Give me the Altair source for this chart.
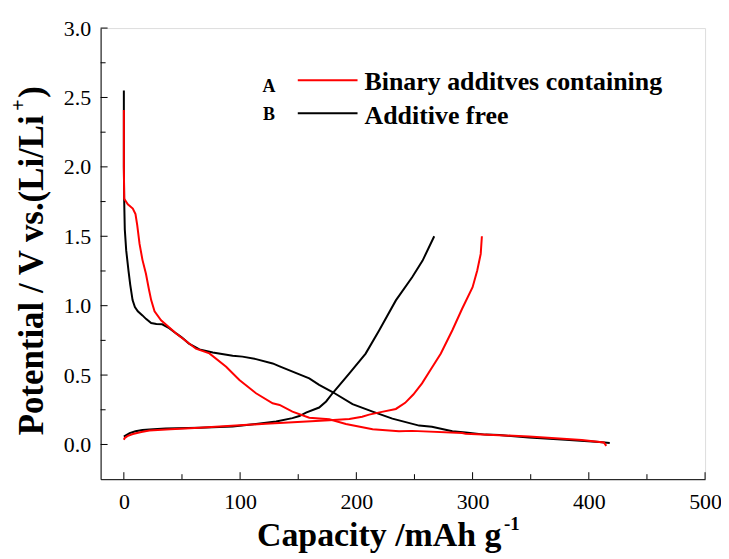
import altair as alt
import pandas as pd

# ---- data ----
# B: Additive free (black)
b_dis_x = [0, 0, 0.3, 0.8, 2, 4, 5.5, 7.5, 9.5, 12, 16, 19, 23.5, 28, 33, 39, 45, 50, 56, 65, 76.5,
           93.6, 102, 113.7, 128, 134, 151, 159.5, 168, 179.5, 196.7, 214, 231, 254, 265, 282.6,
           294, 311, 323, 348.5, 380, 409, 418]
b_dis_y = [2.55, 2.0, 1.75, 1.55, 1.40, 1.25, 1.15, 1.04, 0.99, 0.96, 0.93, 0.905, 0.875, 0.868,
           0.866, 0.838, 0.80, 0.77, 0.727, 0.685, 0.662, 0.640, 0.633, 0.615, 0.584, 0.563, 0.505,
           0.476, 0.43, 0.378, 0.29, 0.237, 0.186, 0.136, 0.127, 0.095, 0.087, 0.071, 0.068, 0.05,
           0.034, 0.017, 0.01]
b_chg_x = [0, 0.6, 5, 10, 16, 22, 36, 65, 93.6, 113.7, 131, 145, 151, 156.7, 168, 174, 179.5, 194,
           208, 219.7, 234, 248, 257, 267]
b_chg_y = [0.057, 0.06, 0.082, 0.095, 0.105, 0.108, 0.115, 0.12, 0.13, 0.148, 0.165, 0.19, 0.205,
           0.23, 0.266, 0.31, 0.369, 0.512, 0.655, 0.823, 1.038, 1.205, 1.325, 1.50]
# A: Binary additves containing (red)
a_dis_x = [0, 0, 0.3, 3.4, 7.7, 10, 11.5, 13.5, 16, 19, 21.5, 23.5, 26.4, 32, 45, 62, 73.6, 88,
           99.4, 113.7, 128, 134, 145, 159.5, 176.7, 191, 214, 236.7, 248, 291, 294, 348.5, 394,
           413, 415]
a_dis_y = [2.41, 2.0, 1.77, 1.73, 1.70, 1.66, 1.58, 1.445, 1.33, 1.23, 1.12, 1.04, 0.96, 0.895,
           0.80, 0.69, 0.656, 0.56, 0.464, 0.369, 0.297, 0.285, 0.237, 0.193, 0.182, 0.148, 0.11,
           0.095, 0.098, 0.082, 0.077, 0.058, 0.032, 0.015, -0.01]
a_chg_x = [0, 0.6, 3, 7.7, 15, 22, 40, 65, 122, 176.7, 194, 205, 211, 222, 234, 242, 249, 256.5,
           264, 272.7, 282.6, 291, 300, 304, 307, 308]
a_chg_y = [0.034, 0.045, 0.06, 0.075, 0.09, 0.1, 0.11, 0.12, 0.15, 0.175, 0.184, 0.2, 0.215, 0.235,
           0.256, 0.3, 0.36, 0.44, 0.54, 0.655, 0.823, 0.978, 1.133, 1.253, 1.373, 1.5]

series_names = ["B_dis", "B_chg", "A_dis", "A_chg"]
series_colors = ["black", "black", "red", "red"]

x_ticks = [0, 100, 200, 300, 400, 500]
x_minor = [50, 150, 250, 350, 450]
y_ticks = [0.0, 0.5, 1.0, 1.5, 2.0, 2.5, 3.0]
y_minor = [0.25, 0.75, 1.25, 1.75, 2.25, 2.75]

legend_labels = ["Binary additves containing", "Additive free"]
legend_keys = ["A", "B"]

x_title = "Capacity /mAh g"
x_title_sup = "-1"
y_title = "Potential / V vs.(Li/Li"
y_title_sup = "+"
y_title_end = ")"

X_DOMAIN = [-20, 500]
Y_DOMAIN = [-0.25, 3.0]
W, H = 607, 453
FONT = "Liberation Serif"

rows = []
for name, xv_list, yv_list in zip(series_names, [b_dis_x, b_chg_x, a_dis_x, a_chg_x],
                                  [b_dis_y, b_chg_y, a_dis_y, a_chg_y]):
    for i, (xv, yv) in enumerate(zip(xv_list, yv_list)):
        rows.append({"series": name, "x": xv, "y": yv, "i": i})
df = pd.DataFrame(rows)

xs = alt.Scale(domain=X_DOMAIN, nice=False, zero=False)
ys = alt.Scale(domain=Y_DOMAIN, nice=False, zero=False)

x_axis = alt.Axis(
    values=x_ticks, format="d", ticks=False, tickSize=0, grid=False, title=None,
    labelFont=FONT, labelFontSize=22, labelColor="black", labelPadding=12,
    labelFlush=False, labelOverlap=False, domainColor="black", domainWidth=1)
y_axis = alt.Axis(
    values=y_ticks, format=".1f", ticks=False, tickSize=0, grid=False, title=None,
    labelFont=FONT, labelFontSize=22, labelColor="black", labelPadding=10,
    labelFlush=False, labelOverlap=False, domainColor="black", domainWidth=1)

lines = alt.Chart(df).mark_line(strokeWidth=2).encode(
    x=alt.X("x:Q", scale=xs, axis=x_axis),
    y=alt.Y("y:Q", scale=ys, axis=y_axis),
    color=alt.Color("series:N", scale=alt.Scale(domain=series_names, range=series_colors),
                    legend=None),
    detail="series:N",
    order="i:Q",
)

# inward ticks
ytick_major = alt.Chart(pd.DataFrame({"y": y_ticks})).mark_rule(color="black", strokeWidth=1).encode(
    y=alt.Y("y:Q", scale=ys, axis=y_axis), x=alt.value(0), x2=alt.value(7))
ytick_minor = alt.Chart(pd.DataFrame({"y": y_minor})).mark_rule(color="black", strokeWidth=1).encode(
    y=alt.Y("y:Q", scale=ys, axis=y_axis), x=alt.value(0), x2=alt.value(5))
xtick_major = alt.Chart(pd.DataFrame({"x": x_ticks})).mark_rule(color="black", strokeWidth=1).encode(
    x=alt.X("x:Q", scale=xs, axis=x_axis), y=alt.value(H), y2=alt.value(H - 7))
xtick_minor = alt.Chart(pd.DataFrame({"x": x_minor})).mark_rule(color="black", strokeWidth=1).encode(
    x=alt.X("x:Q", scale=xs, axis=x_axis), y=alt.value(H), y2=alt.value(H - 5))

one = pd.DataFrame({"d": [0]})


def txt(text, x, y, size, align="left", angle=0, weight="bold"):
    kw = dict(font=FONT, fontSize=size, fontWeight=weight, align=align,
              baseline="alphabetic", color="black")
    if angle:
        kw["angle"] = angle
    return alt.Chart(one).mark_text(**kw).encode(
        x=alt.value(x), y=alt.value(y), text=alt.value(text))


def seg(x1, x2, y, color):
    return alt.Chart(one).mark_rule(color=color, strokeWidth=2).encode(
        x=alt.value(x1), x2=alt.value(x2), y=alt.value(y))


layers = [
    lines, ytick_major, ytick_minor, xtick_major, xtick_minor,
    # legend
    txt(legend_keys[0], 169, 64, 18, align="center"),
    seg(198, 258, 52.5, "red"),
    txt(legend_keys[1], 169, 92, 18, align="center"),
    seg(198, 258, 85.5, "black"),
    txt(legend_labels[0], 265, 62.5, 26),
    txt(legend_labels[1], 265, 96, 26),
    # axis titles
    txt(x_title, 157, 520, 34),
    txt(x_title_sup, 405, 504, 19),
    txt(y_title, -58, 409, 35, angle=270),
    txt(y_title_sup, -76, 83, 20, angle=270),
    txt(y_title_end, -58, 70, 35, angle=270),
]

chart = alt.layer(*layers).properties(
    width=W, height=H,
    autosize=alt.AutoSizeParams(type="none"),
    padding={"left": 93, "top": 19, "right": 16, "bottom": 78},
).configure_view(stroke="black", strokeWidth=1).configure(background="white")

chart.save("out.html", embed_options={"renderer": "svg", "actions": False})
